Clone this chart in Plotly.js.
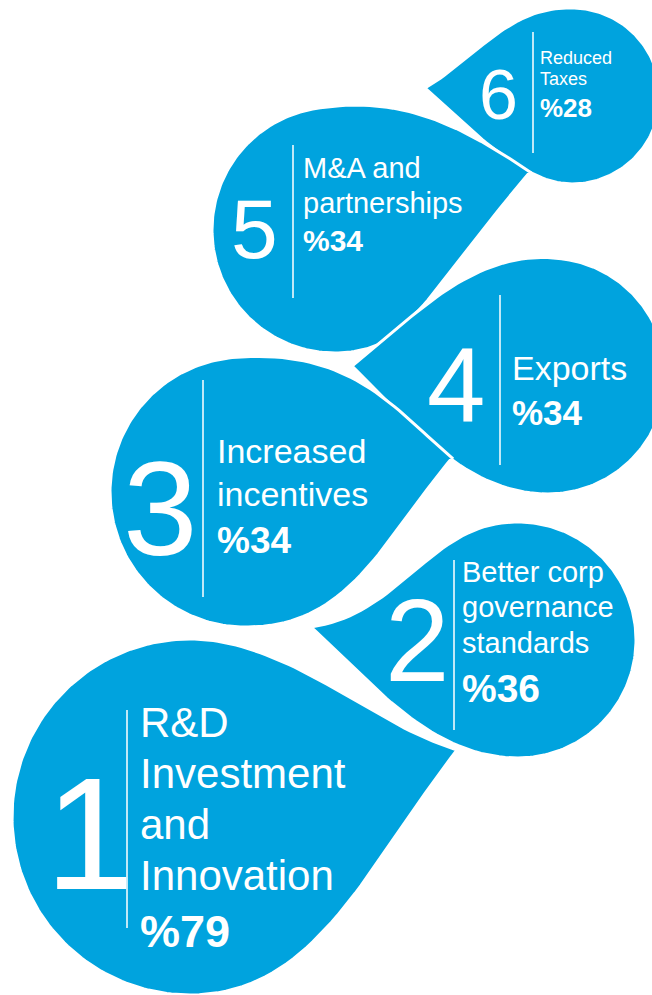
<!DOCTYPE html>
<html>
<head>
<meta charset="utf-8">
<script src="https://cdn.plot.ly/plotly-3.0.1.min.js"></script>
<style>html,body{margin:0;padding:0;background:#fff;}#chart{width:652px;height:995px;}</style>
</head>
<body>
<div id="chart"></div>
<script>
// ---- data ----
const ranks = ['1', '2', '3', '4', '5', '6'];
const labelLines = [
  ['R&D', 'Investment', 'and', 'Innovation'],
  ['Better corp', 'governance', 'standards'],
  ['Increased', 'incentives'],
  ['Exports'],
  ['M&A and', 'partnerships'],
  ['Reduced', 'Taxes']
];
const values = [79, 36, 34, 34, 34, 28];

// ---- layout / geometry (positions in px, y downwards) ----
const dropGeom = [
  {cx: 190, cy: 817, r: 178, tx: 457, ty: 750, dir: 1,  tu: -75,  au: 18, k: [0.36, 0.36, 0.40, 0.35], tb: 90, al: -52},
  {cx: 518, cy: 640, r: 118, tx: 311, ty: 627, dir: -1, tu: -95,  au: 8,  k: [0.40, 0.40, 0.35, 0.35], tb: 90, al: -43},
  {cx: 245, cy: 492, r: 135, tx: 452, ty: 458, dir: 1,  tu: -95,  au: 40, k: [0.50, 0.30, 0.40, 0.40], tb: 92, al: -50},
  {cx: 548, cy: 376, r: 118, tx: 352, ty: 366, dir: -1, tu: -100, au: 37, k: [0.40, 0.30, 0.35, 0.35], tb: 90, al: -45},
  {cx: 335, cy: 230, r: 123, tx: 530, ty: 172, dir: 1,  tu: -100, au: 34, k: [0.40, 0.35, 0.45, 0.20], tb: 75, al: -49},
  {cx: 572, cy: 96,  r: 88,  tx: 425, ty: 88,  dir: -1, tu: -95,  au: 30, k: [0.40, 0.35, 0.35, 0.28], tb: 90, al: -42}
];
const textGeom = [
  {numX: 89,  numY: 832, numSize: 160, lineX: 127, lineY: [710, 928], txtX: 139, base: [737, 788, 839, 890], txtSize: 42, valBase: 947, valSize: 45},
  {numX: 417, numY: 640, numSize: 116, lineX: 454, lineY: [560, 730], txtX: 461, base: [582, 617, 653], txtSize: 29, valBase: 702, valSize: 39},
  {numX: 160, numY: 507, numSize: 134, lineX: 203, lineY: [380, 597], txtX: 216, base: [463, 506], txtSize: 34, valBase: 553, valSize: 37},
  {numX: 456, numY: 384, numSize: 105, lineX: 500, lineY: [295, 465], txtX: 511, base: [380], txtSize: 34, valBase: 425, valSize: 35},
  {numX: 254, numY: 228, numSize: 84,  lineX: 293, lineY: [145, 298], txtX: 302, base: [178, 213], txtSize: 29, valBase: 251, valSize: 30},
  {numX: 498, numY: 94,  numSize: 70,  lineX: 533, lineY: [32, 153],  txtX: 539, base: [64, 85], txtSize: 18, valBase: 117, valSize: 26}
];
const BLUE = '#00A3DE';
const FONT = '"Liberation Sans", Arial, Helvetica, sans-serif';
const drawOrder = [5, 4, 3, 2, 1, 0];

// ---- teardrop outline generator ----
function dropPath(g) {
  const rad = Math.PI / 180;
  const P = th => [g.r * Math.cos(th * rad), g.r * Math.sin(th * rad)];
  const tg = th => [-Math.sin(th * rad), Math.cos(th * rad)];
  const dv = a => [Math.cos(a * rad), Math.sin(a * rad)];
  const dist = (a, b) => Math.hypot(a[0] - b[0], a[1] - b[1]);
  const bez = (p0, p1, p2, p3, out) => {
    for (let i = 1; i <= 40; i++) {
      const t = i / 40, u = 1 - t;
      out.push([
        u*u*u*p0[0] + 3*u*u*t*p1[0] + 3*u*t*t*p2[0] + t*t*t*p3[0],
        u*u*u*p0[1] + 3*u*u*t*p1[1] + 3*u*t*t*p2[1] + t*t*t*p3[1]
      ]);
    }
  };
  const T = [g.dir * (g.tx - g.cx), g.ty - g.cy];
  const tu = g.tu + 360;
  const pts = [];
  for (let th = g.tb; th <= tu; th += 1.5) pts.push(P(th));
  const Pu = P(tu), tU = tg(tu), aU = dv(g.au), d1 = dist(Pu, T);
  bez(Pu,
      [Pu[0] + g.k[0] * d1 * tU[0], Pu[1] + g.k[0] * d1 * tU[1]],
      [T[0] - g.k[1] * d1 * aU[0], T[1] - g.k[1] * d1 * aU[1]],
      T, pts);
  const Pb = P(g.tb), tB = tg(g.tb), aL = dv(g.al), d2 = dist(T, Pb);
  bez(T,
      [T[0] - g.k[2] * d2 * aL[0], T[1] - g.k[2] * d2 * aL[1]],
      [Pb[0] - g.k[3] * d2 * tB[0], Pb[1] - g.k[3] * d2 * tB[1]],
      Pb, pts);
  return {
    x: pts.map(p => g.cx + g.dir * p[0]),
    y: pts.map(p => g.cy + p[1])
  };
}

const traces = drawOrder.map(i => {
  const p = dropPath(dropGeom[i]);
  return {
    type: 'scatter', mode: 'lines', x: p.x, y: p.y,
    fill: 'toself', fillcolor: BLUE,
    line: {color: '#ffffff', width: 3},
    hoverinfo: 'skip', showlegend: false, name: 'Rank ' + ranks[i]
  };
});

const shapes = [];
const annotations = [];
ranks.forEach((rk, i) => {
  const t = textGeom[i];
  shapes.push({type: 'line', xref: 'x', yref: 'y', x0: t.lineX, x1: t.lineX, y0: t.lineY[0], y1: t.lineY[1],
               line: {color: '#ffffff', width: 1.5}, layer: 'above'});
  annotations.push({x: t.numX, y: t.numY + 0.012 * t.numSize, xref: 'x', yref: 'y', text: rk, showarrow: false,
                    xanchor: 'center', yanchor: 'middle', borderpad: 0,
                    font: {family: FONT, size: t.numSize, color: '#ffffff'}});
  labelLines[i].forEach((ln, j) => {
    annotations.push({x: t.txtX, y: t.base[j] - 0.3465 * t.txtSize, xref: 'x', yref: 'y', text: ln, showarrow: false,
                      xanchor: 'left', yanchor: 'middle', borderpad: 0,
                      font: {family: FONT, size: t.txtSize, color: '#ffffff'}});
  });
  annotations.push({x: t.txtX, y: t.valBase - 0.3465 * t.valSize, xref: 'x', yref: 'y', text: '<b>%' + values[i] + '</b>',
                    showarrow: false, xanchor: 'left', yanchor: 'middle', borderpad: 0,
                    font: {family: FONT, size: t.valSize, color: '#ffffff'}});
});

const layout = {
  width: 652, height: 995,
  margin: {l: 0, r: 0, t: 0, b: 0, pad: 0},
  paper_bgcolor: '#ffffff', plot_bgcolor: '#ffffff',
  xaxis: {range: [0, 652], visible: false, fixedrange: true},
  yaxis: {range: [995, 0], visible: false, fixedrange: true},
  showlegend: false,
  shapes: shapes,
  annotations: annotations
};

Plotly.newPlot('chart', traces, layout, {displayModeBar: false, staticPlot: true});
</script>
</body>
</html>
